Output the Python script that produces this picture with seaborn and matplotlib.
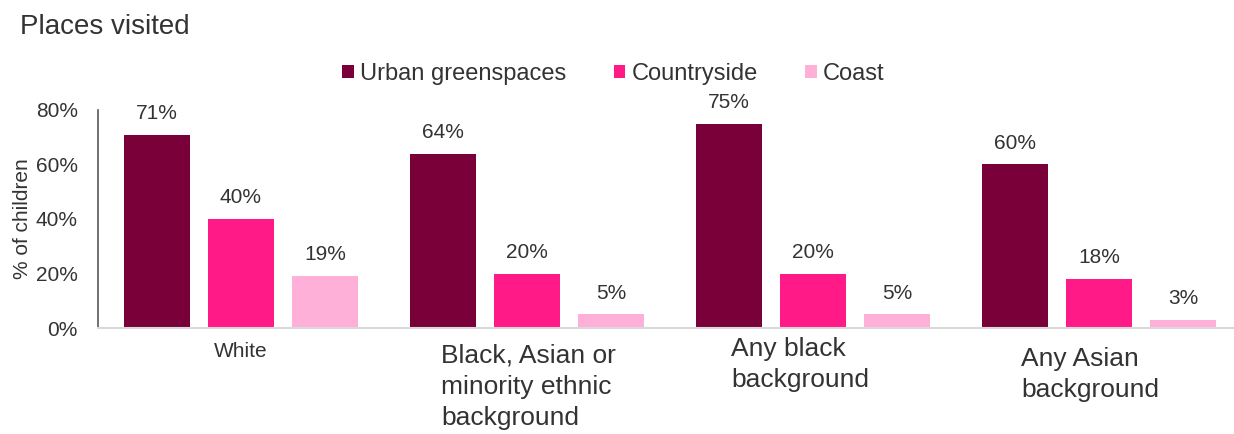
import matplotlib
matplotlib.use("Agg")
import matplotlib.pyplot as plt
import seaborn as sns
import pandas as pd
from matplotlib.ticker import FuncFormatter

# Data
groups = ["White", "Black, Asian or\nminority ethnic\nbackground",
          "Any black\nbackground", "Any Asian\nbackground"]
places = ["Urban greenspaces", "Countryside", "Coast"]
urban = [71, 64, 75, 60]
countryside = [40, 20, 20, 18]
coast = [19, 5, 5, 3]

colors = ["#7A003A", "#FF1A88", "#FFB0D8"]
text_color = "#333333"

rows = []
for place, vals in zip(places, [urban, countryside, coast]):
    for g, v in zip(groups, vals):
        rows.append({"group": g, "place": place, "value": v})
df = pd.DataFrame(rows)

sns.set_theme(style="white")
plt.rcParams["font.family"] = ["Liberation Sans", "DejaVu Sans"]
plt.rcParams["text.color"] = text_color
plt.rcParams["axes.labelcolor"] = text_color
plt.rcParams["xtick.color"] = text_color
plt.rcParams["ytick.color"] = text_color

fig = plt.figure(figsize=(12.34, 4.34), dpi=100)
ax = fig.add_axes([98 / 1234, 106 / 434, 1144 / 1234, 218 / 434])

sns.barplot(data=df, x="group", y="value", hue="place", order=groups,
            hue_order=places, palette=colors, width=0.88, gap=0.214,
            saturation=1, ax=ax, linewidth=0)

ax.set_ylim(0, 80)
ax.set_xlim(-0.5, 3.5)
ax.set_yticks([0, 20, 40, 60, 80])
ax.yaxis.set_major_formatter(FuncFormatter(lambda v, p: f"{v:.0f}%"))
ax.tick_params(axis="y", direction="out", length=5, width=1.2,
               color="#595959", labelsize=15, pad=9.5)
ax.tick_params(axis="x", length=0)

for side in ["top", "right"]:
    ax.spines[side].set_visible(False)
ax.spines["left"].set_color("#595959")
ax.spines["left"].set_linewidth(1.2)
ax.spines["bottom"].set_color("#d9d9d9")
ax.spines["bottom"].set_linewidth(1.5)

ax.set_xlabel("")
ax.set_ylabel("% of children", fontsize=15)
ax.yaxis.set_label_coords(-0.058, 0.5)

# Value labels above bars
for cont in ax.containers:
    ax.bar_label(cont, fmt=lambda v: f"{v:.0f}%", padding=8.5,
                 fontsize=15, color=text_color)

# Category labels below the axis
ax.set_xticks(range(len(groups)))
ax.set_xticklabels([""] * len(groups))
label_ha = ["center", "left", "left", "left"]
label_dx = [0, -86, -82, -78]
label_dy = [-14, -16, -9, -19]
for i, g in enumerate(groups):
    ax.annotate(g, xy=(i, 0), xycoords=("data", "axes fraction"),
                xytext=(label_dx[i], label_dy[i]), textcoords="offset pixels",
                ha=label_ha[i], va="top", fontsize=15 if i == 0 else 19,
                color=text_color, linespacing=1.37, annotation_clip=False)

# Legend across the top
leg = ax.get_legend()
handles = leg.legend_handles
labels = [t.get_text() for t in leg.texts]
leg.remove()
fig.legend(handles, labels, loc="center", bbox_to_anchor=(0.497, 0.8295),
           ncol=3, frameon=False, fontsize=17, handlelength=0.5,
           handleheight=0.5, handletextpad=0.25, columnspacing=2.0)

fig.text(20 / 1234, 1 - 34 / 434, "Places visited", fontsize=20,
         va="baseline", ha="left", color=text_color)

fig.savefig("out.png", dpi=100)
